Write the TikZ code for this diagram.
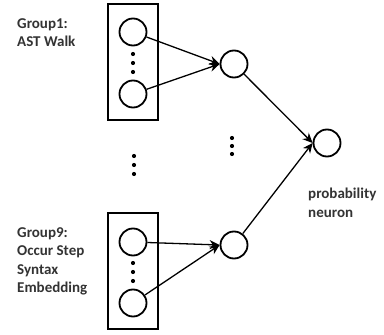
\documentclass[tikz,border=0pt]{standalone}
\usepackage{fontspec}
\setmainfont{Carlito}
\usetikzlibrary{arrows.meta}
\begin{document}
\begin{tikzpicture}[x=1pt,y=-1pt,
  neuron/.style={draw,circle,line width=1.8pt,minimum size=27pt,inner sep=0pt},
  groupbox/.style={draw,line width=2pt},
  conn/.style={line width=1.3pt,-{Stealth[length=10pt,width=9pt]}},
  dotm/.style={fill,circle,inner sep=0pt,minimum size=4.2pt},
  lbl/.style={font=\bfseries\fontsize{15}{18.5}\selectfont,text=black!80,align=left,anchor=north west,inner sep=0pt}]
\useasboundingbox (0,0) rectangle (384,335);
% boxes
\node[groupbox,minimum width=50pt,minimum height=116pt,inner sep=0pt] (box1) at (133,62) {};
\node[groupbox,minimum width=50pt,minimum height=116pt,inner sep=0pt] (box9) at (133,271) {};
% input neurons
\node[neuron] (a1) at (133,32) {};
\node[neuron] (a2) at (133,94) {};
\node[neuron] (b1) at (133,242) {};
\node[neuron] (b2) at (133,303) {};
% hidden neurons
\node[neuron] (h1) at (234,64) {};
\node[neuron] (h9) at (234,245) {};
% output
\node[neuron] (o) at (327,143) {};
% dots
\foreach \y [count=\i] in {54,63,72} \node[dotm] (d1\i) at (133,\y) {};
\foreach \y [count=\i] in {263,272,281} \node[dotm] (d9\i) at (133,\y) {};
\foreach \y [count=\i] in {156,165,174} \node[dotm] (dl\i) at (134,\y) {};
\foreach \y [count=\i] in {138,146,154} \node[dotm] (dm\i) at (232,\y) {};
% connections
\draw[conn] (a1) -- (h1.west);
\draw[conn] (a2) -- (h1.west);
\draw[conn] (b1) -- (h9.west);
\draw[conn] (b2) -- (h9.west);
\draw[conn] (h1) -- (o.west);
\draw[conn] (h9) -- (o.west);
% labels
\node[lbl] (g1) at (17,18) {Group1:\\AST Walk};
\node[lbl] (g9) at (17,227) {Group9:\\Occur Step\\Syntax\\Embedding};
\node[lbl] (pn) at (308,188) {probability\\neuron};
\end{tikzpicture}
\end{document}
